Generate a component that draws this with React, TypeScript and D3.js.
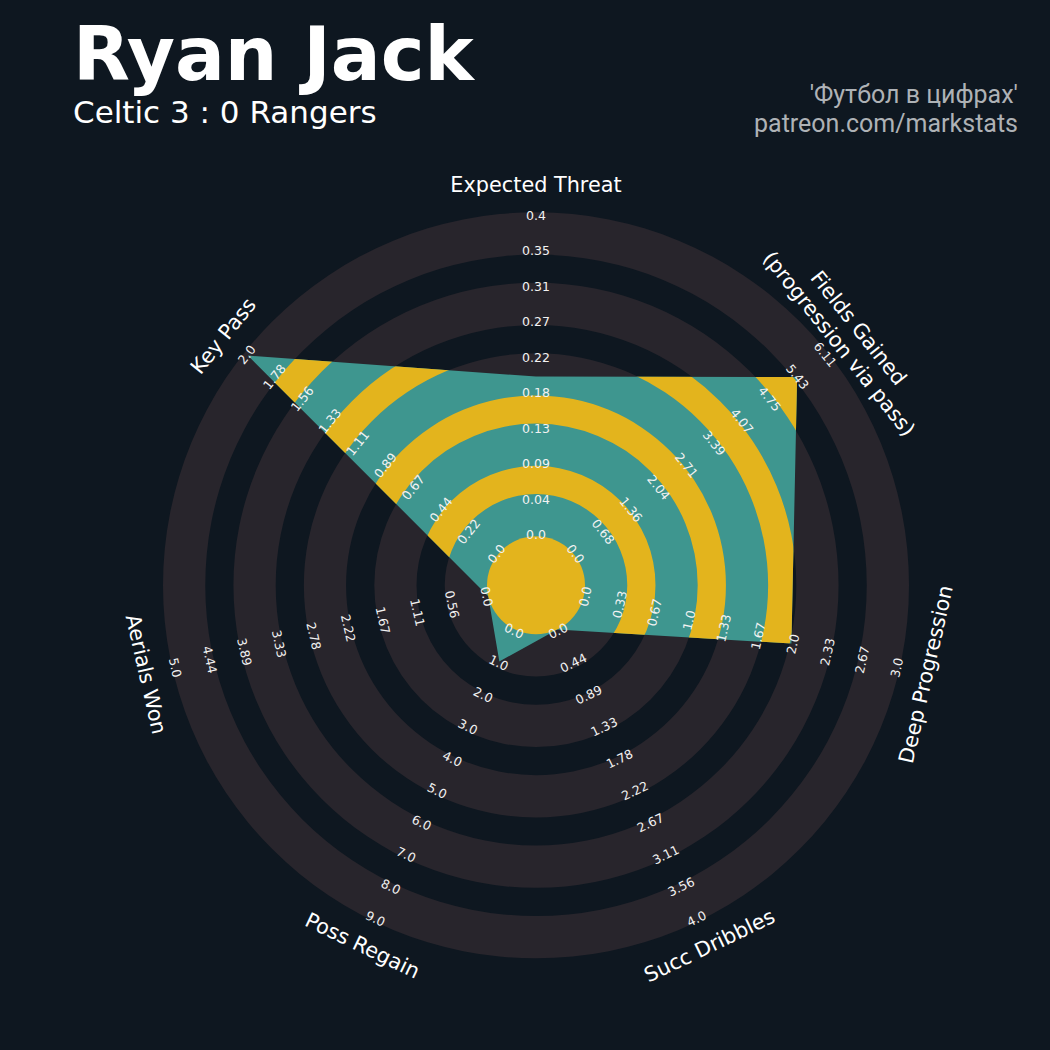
import React from 'react';
import * as d3 from 'd3';

// ---------- data ----------
const PARAMS = [
  'Expected Threat',
  'Fields Gained\n(progression via pass)',
  'Deep Progression',
  'Succ Dribbles',
  'Poss Regain',
  'Aerials Won',
  'Key Pass',
];
const MIN_RANGE = [0, 0, 0, 0, 0, 0, 0];
const MAX_RANGE = [0.4, 6.11, 3.0, 4.0, 9.0, 5.0, 2.0];
const VALUES = [0.2, 5.45, 2.0, 0.0, 1.0, 0.0, 2.0];

const TICKS_XT = ['0.0', '0.04', '0.09', '0.13', '0.18', '0.22', '0.27', '0.31', '0.35', '0.4'];
const TICKS_FG = ['0.0', '0.68', '1.36', '2.04', '2.71', '3.39', '4.07', '4.75', '5.43', '6.11'];
const TICKS_DP = ['0.0', '0.33', '0.67', '1.0', '1.33', '1.67', '2.0', '2.33', '2.67', '3.0'];
const TICKS_SD = ['0.0', '0.44', '0.89', '1.33', '1.78', '2.22', '2.67', '3.11', '3.56', '4.0'];
const TICKS_PR = ['0.0', '1.0', '2.0', '3.0', '4.0', '5.0', '6.0', '7.0', '8.0', '9.0'];
const TICKS_AW = ['0.0', '0.56', '1.11', '1.67', '2.22', '2.78', '3.33', '3.89', '4.44', '5.0'];
const TICKS_KP = ['0.0', '0.22', '0.44', '0.67', '0.89', '1.11', '1.33', '1.56', '1.78', '2.0'];
const TICK_LABELS = [TICKS_XT, TICKS_FG, TICKS_DP, TICKS_SD, TICKS_PR, TICKS_AW, TICKS_KP];

const TITLE = 'Ryan Jack';
const SUBTITLE = 'Celtic 3 : 0 Rangers';
const CREDITS = ["'Футбол в цифрах'", 'patreon.com/markstats'];

// ---------- style / layout ----------
const W = 1050;
const H = 1050;
const CX = 536;
const CY = 585.3;
const R_CENTER = 49;
const R_DATA = 368.5;
const R_RING = 373;
const R_PARAM = 400;
const BG = '#0e1720';
const RING = '#28252c';
const TEAL = '#3e968f';
const YELLOW = '#e3b41d';
const FONT = "'DejaVu Sans', sans-serif";

const n = PARAMS.length;
const angleDeg = d3.scaleLinear().domain([0, n]).range([90, 90 - 360]);
const ringScale = d3.scaleLinear().domain([0, 11.5]).range([R_CENTER, R_RING]);
const valueScales = PARAMS.map((_, i) =>
  d3.scaleLinear().domain([MIN_RANGE[i], MAX_RANGE[i]]).range([R_CENTER, R_DATA])
);

function pt(i: number, r: number): [number, number] {
  const a = (angleDeg(i) * Math.PI) / 180;
  return [CX + r * Math.cos(a), CY - r * Math.sin(a)];
}

function textRot(i: number): number {
  let r = 90 - angleDeg(i);
  while (r > 180) r -= 360;
  while (r <= -180) r += 360;
  if (r > 90) r -= 180;
  if (r < -90) r += 180;
  return r;
}

const annulus = (inner: number, outer: number) =>
  d3.arc()({ innerRadius: inner, outerRadius: outer, startAngle: 0, endAngle: 2 * Math.PI } as any) as string;

export default function App() {
  const greyBands = d3.range(5).map((j) => [ringScale(2.5 * j), ringScale(2.5 * j + 1.5)]);
  const darkBands = d3.range(4).map((j) => [ringScale(2.5 * j + 1.5), ringScale(2.5 * j + 2.5)]);

  const verts = VALUES.map((v, i) => pt(i, valueScales[i](v)));
  const polyPath = d3.line()(verts as any) + 'Z';

  return (
    <svg
      width={W}
      height={H}
      viewBox={`0 0 ${W} ${H}`}
      style={{ position: 'absolute', left: 0, top: 0, display: 'block' }}
    >
      <defs>
        <clipPath id="radarClip">
          <path d={polyPath} />
        </clipPath>
      </defs>
      <rect x={0} y={0} width={W} height={H} fill={BG} />

      <g transform={`translate(${CX},${CY})`}>
        {greyBands.map(([a, b], j) => (
          <path key={'g' + j} d={annulus(a, b)} fill={RING} />
        ))}
      </g>

      <path d={polyPath} fill={TEAL} />
      <g clipPath="url(#radarClip)">
        <g transform={`translate(${CX},${CY})`}>
          {darkBands.map(([a, b], j) => (
            <path key={'y' + j} d={annulus(a, b)} fill={YELLOW} />
          ))}
        </g>
      </g>
      <circle cx={CX} cy={CY} r={R_CENTER} fill={YELLOW} />

      {/* range labels */}
      {TICK_LABELS.map((labels, i) =>
        labels.map((lab, k) => {
          const v = MIN_RANGE[i] + ((MAX_RANGE[i] - MIN_RANGE[i]) * k) / (labels.length - 1);
          const [x, y] = pt(i, valueScales[i](v) + 1.5);
          return (
            <text
              key={`t${i}-${k}`}
              x={x}
              y={y}
              transform={`rotate(${textRot(i)},${x},${y})`}
              textAnchor="middle"
              dominantBaseline="central"
              fontFamily={FONT}
              fontSize={12.5}
              fill="#f2f2f2"
            >
              {lab}
            </text>
          );
        })
      )}

      {/* parameter labels */}
      {PARAMS.map((p, i) => {
        const [x, y] = pt(i, R_PARAM);
        const lines = p.split('\n');
        const lh = 25;
        return (
          <text
            key={'p' + i}
            transform={`translate(${x},${y}) rotate(${textRot(i)})`}
            textAnchor="middle"
            dominantBaseline="central"
            fontFamily={FONT}
            fontSize={20.8}
            fill="#ffffff"
          >
            {lines.map((l, k) => (
              <tspan key={k} x={0} y={(k - (lines.length - 1) / 2) * lh}>
                {l}
              </tspan>
            ))}
          </text>
        );
      })}

      {/* titles */}
      <text x={73} y={80} fontFamily={FONT} fontWeight="bold" fontSize={74} fill="#ffffff">
        {TITLE}
      </text>
      <text x={73} y={123} fontFamily={FONT} fontSize={31} fill="#ffffff">
        {SUBTITLE}
      </text>
      {CREDITS.map((c, k) => (
        <text
          key={'c' + k}
          x={1018}
          y={103 + k * 28.5}
          textAnchor="end"
          fontFamily="Roboto, sans-serif"
          fontSize={25}
          fill="#aeb2b6"
        >
          {c}
        </text>
      ))}
    </svg>
  );
}
